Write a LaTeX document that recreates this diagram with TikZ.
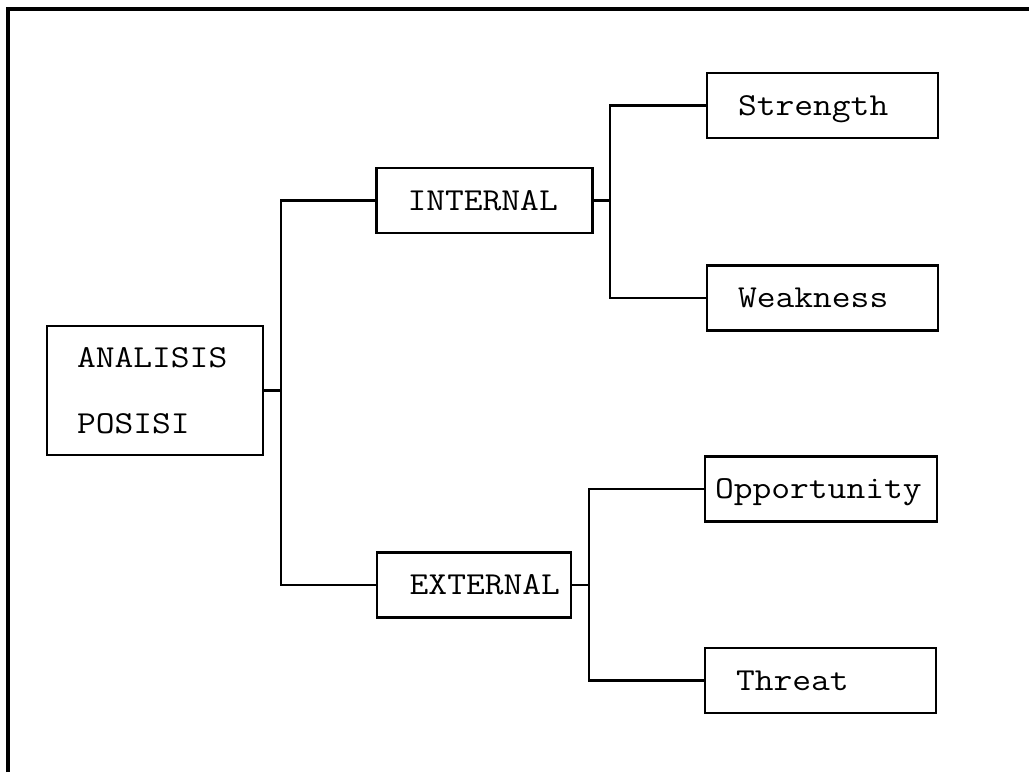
\documentclass[tikz,border=0pt]{standalone}
\usepackage{fontspec}
\setmonofont{Latin Modern Mono}[FakeStretch=1.14]
\tikzset{
  kotak/.style = {draw=black, line width=1.3pt, font=\ttfamily\fontsize{16}{20}\selectfont,
    minimum height=32.5pt, inner ysep=0pt, text height=9.8pt, text depth=0pt, align=left},
  akar/.style = {draw=black, line width=1.3pt, font=\ttfamily\fontsize{16}{33}\selectfont,
    minimum height=64.5pt, inner xsep=15pt, text width=78pt, align=left},
  kiri/.style = {kotak, inner xsep=15.5pt, text width=77pt},
  kanan/.style = {kotak, inner xsep=15.5pt, text width=84.5pt},
  gr/.style = {draw=black, line width=1.1pt},
  bingkai/.style = {draw=black, line width=1.8pt}
}

\begin{document}
\begin{tikzpicture}[x=0.5pt, y=-0.5pt]
  \useasboundingbox (0,0) rectangle (1029,772);
  \draw [bingkai] (8,772) -- (8,9) -- (1029,9);

  % akar
  \node [akar] (ap) at (155,390.5) {ANALISIS\\POSISI};
  \coordinate (j1) at (281,390.5);
  \draw [gr] (ap.east) -- (j1);

  % internal
  \node [kiri] (in) at (484.5,200.5) {INTERNAL};
  \node [kanan] (st) at (822.5,105.5) {Strength};
  \node [kanan] (we) at (822.5,298) {Weakness};
  \coordinate (j2) at (610,200.5);
  \draw [gr] (in.east) -- (j2);
  \draw [gr] (st.west) -| (j2) |- (we.west);

  % eksternal
  \node [kotak, inner xsep=5.5pt, text width=86pt, align=right] (ex) at (474,585) {EXTERNAL};
  \node [kotak, inner xsep=5pt, text width=106pt] (op) at (821,489) {Opportunity};
  \node [kanan] (th) at (820.5,680.5) {Threat};
  \coordinate (j3) at (589,585);
  \draw [gr] (ex.east) -- (j3);
  \draw [gr] (op.west) -| (j3) |- (th.west);

  \draw [gr] (in.west) -| (j1) |- (ex.west);
\end{tikzpicture}
\end{document}
